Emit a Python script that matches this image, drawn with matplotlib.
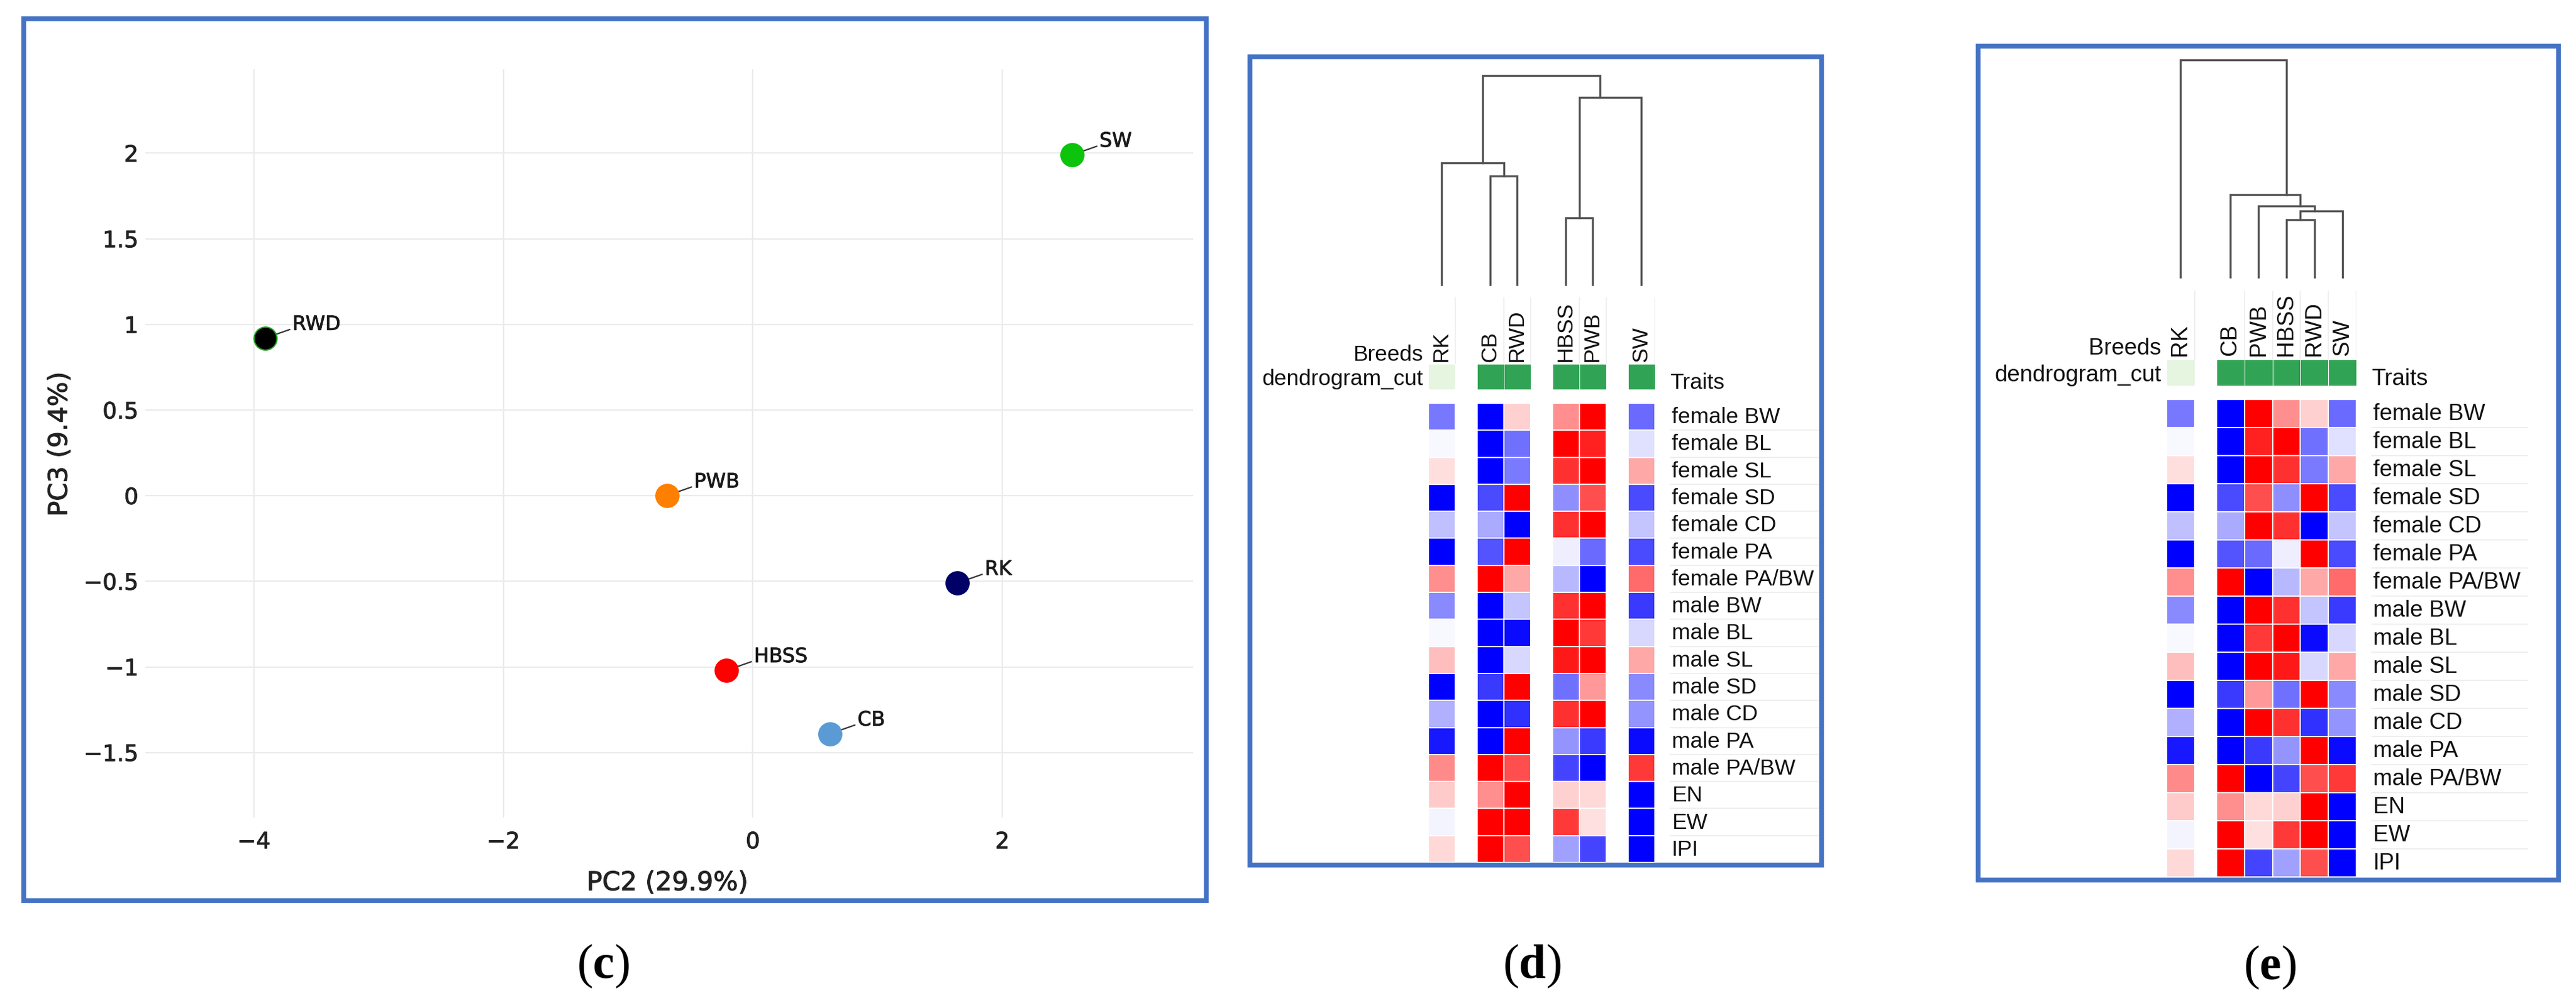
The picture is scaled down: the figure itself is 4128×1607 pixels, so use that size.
import numpy as np
import matplotlib.pyplot as plt
import matplotlib.transforms as mtransforms
import matplotlib.patheffects as pe
from matplotlib.patches import Rectangle
from matplotlib.colors import ListedColormap
from matplotlib.ticker import FixedLocator, FuncFormatter

plt.rcParams['mathtext.fontset'] = 'custom'
plt.rcParams['mathtext.rm'] = 'Liberation Serif'
plt.rcParams['mathtext.bf'] = 'Liberation Serif:bold'

#### data: panel (c) PCA ####
pca_breeds = ['RWD', 'SW', 'PWB', 'RK', 'HBSS', 'CB']
pc2 = [-3.91, 2.56, -0.69, 1.64, -0.21, 0.62]
pc3 = [0.92, 1.99, 0.00, -0.51, -1.02, -1.39]
pca_colors = ['#000000', '#0cc40c', '#ff7f00', '#000066', '#ff0000', '#5b9bd5']
x_ticks = [-4, -2, 0, 2]
y_ticks = [-1.5, -1, -0.5, 0, 0.5, 1, 1.5, 2]

#### data: heatmaps (d) and (e), scaled trait values per breed ####
traits = ['female BW', 'female BL', 'female SL', 'female SD', 'female CD',
          'female PA', 'female PA/BW', 'male BW', 'male BL', 'male SL',
          'male SD', 'male CD', 'male PA', 'male PA/BW', 'EN', 'EW', 'IPI']
z_RK = [-0.53, -0.03, 0.13, -1.0, -0.25, -1.0, 0.44, -0.46, -0.03, 0.25,
        -1.0, -0.31, -0.90, 0.46, 0.21, -0.04, 0.15]
z_CB = [-1.0, -1.0, -1.0, -0.71, -0.33, -0.67, 1.0, -1.0, -1.0, -1.0,
        -0.77, -1.0, -1.0, 1.0, 0.44, 1.0, 1.0]
z_RWD = [0.18, -0.56, -0.52, 1.0, -1.0, 1.0, 0.34, -0.23, -0.96, -0.15,
         1.0, -0.81, 1.0, 0.69, 1.0, 1.0, 0.69]
z_HBSS = [0.44, 1.0, 0.81, -0.44, 0.81, -0.07, -0.28, 0.81, 1.0, 0.90,
          -0.56, 0.81, -0.42, -0.73, 0.18, 0.78, -0.37]
z_PWB = [1.0, 0.87, 1.0, 0.69, 1.0, -0.58, -1.0, 1.0, 0.78, 1.0,
         0.40, 1.0, -0.77, -1.0, 0.15, 0.12, -0.73]
z_SW = [-0.58, -0.12, 0.34, -0.71, -0.23, -0.71, 0.58, -0.77, -0.15, 0.34,
        -0.46, -0.42, -0.96, 0.78, -1.0, -1.0, -1.0]
breed_values = {'RK': z_RK, 'CB': z_CB, 'RWD': z_RWD, 'HBSS': z_HBSS,
                'PWB': z_PWB, 'SW': z_SW}
dendrogram_cut = {'RK': 1, 'CB': 2, 'RWD': 2, 'HBSS': 2, 'PWB': 2, 'SW': 2}

#### dendrograms: leaf order + merges (left, right, height) ####
d_order = ['RK', 'CB', 'RWD', 'HBSS', 'PWB', 'SW']
d_links = [(3, 4, 107), (1, 2, 174), (0, 7, 195), (6, 5, 300), (8, 9, 335)]
e_order = ['RK', 'CB', 'PWB', 'HBSS', 'RWD', 'SW']
e_links = [(3, 4, 92), (6, 5, 106), (2, 7, 114), (1, 8, 132), (0, 9, 348)]

#### layout (pixels) ####
W, H = 4128, 1608
FRAME = '#4472c4'
fig = plt.figure(figsize=(W / 100, H / 100), dpi=100)
thick = [pe.withStroke(linewidth=0.7, foreground='#222222')]


def rect(x0, y0, x1, y1):
    return [x0 / W, 1 - y1 / H, (x1 - x0) / W, (y1 - y0) / H]


def fxy(x, y):
    return x / W, 1 - y / H


def frame(x0, y0, x1, y1):
    fig.add_artist(Rectangle((x0 / W, 1 - y1 / H), (x1 - x0) / W, (y1 - y0) / H,
                             transform=fig.transFigure, fill=False,
                             edgecolor=FRAME, lw=5.5))


#### panel (c) ####
frame(38, 31, 1933, 1444)
ax = fig.add_axes(rect(233, 112, 1912, 1311))
ax.set_xlim(-4.87, 3.53)
ax.set_ylim(-1.88, 2.49)
ax.xaxis.set_major_locator(FixedLocator(x_ticks))
ax.yaxis.set_major_locator(FixedLocator(y_ticks))
fmt = FuncFormatter(lambda v, p: ('%g' % v).replace('-', '\u2212'))
ax.xaxis.set_major_formatter(fmt)
ax.yaxis.set_major_formatter(fmt)
ax.grid(True, color='#ebebeb', lw=1.6)
ax.set_axisbelow(True)
for s in ax.spines.values():
    s.set_visible(False)
ax.tick_params(axis='both', length=0, labelsize=26, labelcolor='#222222')
ax.tick_params(axis='x', pad=16)
ax.tick_params(axis='y', pad=8)
for lab in ax.get_xticklabels() + ax.get_yticklabels():
    lab.set_path_effects(thick)
ax.set_xlabel('PC2 (29.9%)', fontsize=30, color='#222222', va='center',
              path_effects=thick)
ax.xaxis.set_label_coords(0.498, -0.087)
ax.set_ylabel('PC3 (9.4%)', fontsize=30, color='#222222', va='center',
              path_effects=thick)
ax.yaxis.set_label_coords(-0.082, 0.499)

for name, x, y, c in zip(pca_breeds, pc2, pc3, pca_colors):
    edge = '#22aa22' if name == 'RWD' else c
    ax.scatter([x], [y], s=700, color=c, edgecolors=edge, linewidths=1.5, zorder=3)
    ax.annotate(name, (x, y), xytext=(31.5, 15.5), textcoords='offset points',
                ha='left', va='center', fontsize=23, color='#1a1a1a', zorder=2,
                path_effects=[pe.withStroke(linewidth=0.6, foreground='#1a1a1a')],
                arrowprops=dict(arrowstyle='-', color='#333333', lw=1.6,
                                shrinkA=1, shrinkB=9, relpos=(0, 0.3)))

fig.text(*fxy(966, 1548), r'($\mathbf{c}$)', ha='center', va='center',
         fontsize=56, family='Liberation Serif')


#### panels (d) and (e) ####
cmap_cut = ListedColormap(['#e5f5e0', '#31a354'])


def heatmap_panel(order, links, lay):
    n = len(order)
    nr = len(traits)
    cw = lay['cell']
    xs = []
    pos = 0.0
    for i in range(n):
        xs.append(pos)
        pos += 1 + (lay['gap'] / cw if i in lay['gap_after'] else 0)
    xs = np.array(xs)
    left = lay['x0'] - cw / 2
    right = lay['x0'] + xs[-1] * cw + cw / 2
    xlim = (-0.5, xs[-1] + 0.5)
    fs = lay['font']

    # dendrogram
    axd = fig.add_axes(rect(left, lay['dendro'][0], right, lay['dendro'][1]))
    top = max(l[2] for l in links)
    axd.set_xlim(xlim)
    axd.set_ylim(0, top)
    axd.axis('off')
    node_x = list(xs)
    node_h = [0.0] * n
    node_leaves = [[i] for i in range(n)]
    for a, b, h in links:
        axd.plot([node_x[a], node_x[a], node_x[b], node_x[b]],
                 [node_h[a], h, h, node_h[b]], color='#555555', lw=2.4,
                 clip_on=False, solid_joinstyle='miter')
        leaves = node_leaves[a] + node_leaves[b]
        node_leaves.append(leaves)
        node_x.append(np.mean(xs[leaves]))
        node_h.append(h)

    # header guide lines
    axh = fig.add_axes(rect(left, lay['header_top'], right, lay['annot'][1]), zorder=0)
    axh.set_xlim(xlim)
    axh.set_ylim(0, 1)
    axh.axis('off')
    axh.vlines(xs + 0.5, 0, 1, colors='#ececec', lw=1.2)

    # annotation row
    axa = fig.add_axes(rect(left, lay['annot'][0], right, lay['annot'][1]), zorder=1)
    axa.set_xlim(xlim)
    axa.set_ylim(0, 1)
    axa.axis('off')
    for j, b in enumerate(order):
        axa.pcolormesh([xs[j] - 0.5, xs[j] + 0.5], [0, 1],
                       np.array([[dendrogram_cut[b]]]), cmap=cmap_cut,
                       vmin=1, vmax=2, edgecolors='#ffffff', linewidth=0.5)
    tr = mtransforms.blended_transform_factory(axa.transData, axa.transAxes)
    tr = mtransforms.offset_copy(tr, fig=fig, x=0, y=lay['label_gap'], units='dots')
    for j, b in enumerate(order):
        axa.text(xs[j], 1, b, transform=tr, rotation=90, ha='center', va='bottom',
                 fontsize=fs, family='Liberation Sans', color='#111111')

    # heatmap cells
    axm = fig.add_axes(rect(left, lay['heat'][0], right, lay['heat'][1]))
    axm.set_xlim(xlim)
    axm.set_ylim(nr, 0)
    axm.axis('off')
    for j, b in enumerate(order):
        axm.pcolormesh([xs[j] - 0.5, xs[j] + 0.5], np.arange(nr + 1),
                       np.array(breed_values[b]).reshape(-1, 1), cmap='bwr',
                       vmin=-1, vmax=1, edgecolors='white', linewidth=1.3)

    # row labels
    axl = fig.add_axes(rect(lay['traits_x'], lay['heat'][0], lay['sep_right'], lay['heat'][1]))
    axl.set_xlim(0, lay['sep_right'] - lay['traits_x'])
    axl.set_ylim(nr, 0)
    axl.axis('off')
    axl.hlines(np.arange(1, nr), 0, lay['sep_right'] - lay['traits_x'],
               colors='#ececec', lw=1.2)
    for i, t in enumerate(traits):
        axl.text(3, i + 0.5, t, ha='left', va='center', fontsize=fs,
                 family='Liberation Sans', color='#111111')

    fig.text(*fxy(lay['traits_x'], lay['annot'][1] - 2), 'Traits', ha='left',
             va='baseline', fontsize=fs, family='Liberation Sans', color='#111111')
    label_bottom = lay['annot'][0] - lay['label_gap']
    fig.text(*fxy(left - 8, label_bottom - 2), 'Breeds', ha='right', va='baseline',
             fontsize=fs, family='Liberation Sans', color='#111111')
    fig.text(*fxy(left - 8, lay['annot'][1] - 8), 'dendrogram_cut', ha='right',
             va='baseline', fontsize=fs, family='Liberation Sans', color='#111111')


lay_d = dict(cell=43, gap=35, gap_after=[0, 2, 4], x0=2310, dendro=(122, 457),
             header_top=477, annot=(584, 625), heat=(647, 1383), label_gap=4,
             traits_x=2676, sep_right=2916, font=25.5)
lay_e = dict(cell=45, gap=35, gap_after=[0], x0=3494, dendro=(97, 445),
             header_top=467, annot=(577, 619), heat=(641, 1406), label_gap=7,
             traits_x=3800, sep_right=4051, font=26.5)

frame(2003, 92, 2919, 1387)
heatmap_panel(d_order, d_links, lay_d)
fig.text(*fxy(2455, 1548), r'($\mathbf{d}$)', ha='center', va='center',
         fontsize=56, family='Liberation Serif')

frame(3170, 75, 4100, 1411)
heatmap_panel(e_order, e_links, lay_e)
fig.text(*fxy(3637, 1550), r'($\mathbf{e}$)', ha='center', va='center',
         fontsize=56, family='Liberation Serif')

fig.savefig('out.png', dpi=100)
